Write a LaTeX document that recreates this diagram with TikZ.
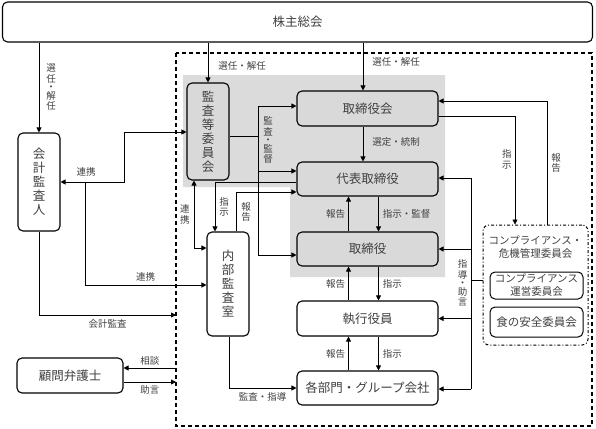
\documentclass[tikz,border=0pt]{standalone}
\usepackage{fontspec}
\setmainfont{Noto Sans CJK JP}
\usetikzlibrary{arrows.meta, positioning, calc}
\tikzset{
    boxnode/.style = {draw, rectangle, rounded corners=0.5em, line width=1.1pt, fill=white, text=black!75,
      inner sep=0pt, node distance=0em, align=center, font=\fontsize{12.5}{14}\selectfont},
    grayboxnode/.style = {boxnode, fill=black!15},
    smallboxnode/.style = {boxnode, line width=1pt, font=\fontsize{10.5}{13}\selectfont},
    groupnode/.style = {draw, rectangle, rounded corners=0.6em, line width=1pt, dash dot, fill=none, inner sep=0pt},
    labelnode/.style = {draw=none, fill=none, rectangle, inner sep=0pt, text=black!75, align=center,
      node distance=0em, font=\fontsize{9.5}{10.5}\selectfont},
    line/.style = {black, line width=0.8pt},
    connect/.style = {line, -{Triangle[length=5pt,width=5pt]}},
    twoway/.style = {line, {Triangle[length=5pt,width=5pt]}-{Triangle[length=5pt,width=5pt]}}
}

\begin{document}
\begin{tikzpicture}[x=1pt, y=-1pt]
    \useasboundingbox (0,0) rectangle (596,428);

    % gray area and dashed frame
    \fill [black!14] (183,75) -- (445,75) -- (445,277) -- (290,277) -- (290,187) -- (183,187) -- cycle;
    \draw [dashed, line width=1.1pt, dash pattern=on 4pt off 3pt] (176,53) rectangle (592,426);

    \node [boxnode, name=kabu, minimum width=590pt, minimum height=40pt] at (297.5,22) {株主総会};

    % main column
    \node [grayboxnode, name=torikai, minimum width=141pt, minimum height=35pt] at (367.5,108.5) {取締役会};
    \node [grayboxnode, name=daihyo, below of = torikai, yshift=-70.5pt, minimum width=141pt, minimum height=34pt] {代表取締役};
    \node [grayboxnode, name=torishimari, below of = daihyo, yshift=-70pt, minimum width=141pt, minimum height=34pt] {取締役};
    \node [boxnode, name=shikko, below of = torishimari, yshift=-69.5pt, minimum width=141pt, minimum height=35pt] {執行役員};
    \node [boxnode, name=kakubu, below of = shikko, yshift=-69.5pt, minimum width=141pt, minimum height=34pt] {各部門・グループ会社};

    \node [grayboxnode, name=kansa, minimum width=42pt, minimum height=97pt] at (208,131.5) {監\\査\\等\\委\\員\\会};
    \node [boxnode, name=naibu, minimum width=42pt, minimum height=104pt] at (228,284) {内\\部\\監\\査\\室};
    \node [boxnode, name=kaikei, minimum width=42pt, minimum height=98pt] at (39,182) {会\\計\\監\\査\\人};
    \node [boxnode, name=komon, minimum width=106pt, minimum height=35pt] at (70,375.5) {顧問弁護士};

    % compliance group
    \node [groupnode, name=comp, minimum width=105pt, minimum height=120pt] at (535.5,285) {};
    \node [labelnode, name=comptitle, font=\fontsize{10.5}{13}\selectfont] at (535.5,247) {コンプライアンス・\\危機管理委員会};
    \node [smallboxnode, name=unei, minimum width=93pt, minimum height=27pt] at (536.5,285.5) {コンプライアンス\\運営委員会};
    \node [smallboxnode, name=shoku, minimum width=93pt, minimum height=30pt, font=\fontsize{11.5}{13}\selectfont] at (536.5,322) {食の安全委員会};

    \coordinate (shidoTop) at (471,178);
    \coordinate (shidoBot) at (471,389);
    \coordinate (kansaTop) at (258,106);
    \coordinate (kansaMid) at (258,171);
    \coordinate (kansaBot) at (258,255);
    \coordinate (renkeiBranch) at (85,182);
    \coordinate (kaikansaEnd) at (176,315);
    \coordinate (sodanEnd) at (176,368);
    \coordinate (jogenEnd) at (176,382);

    % from the shareholders
    \draw [connect] (kaikei.north |- kabu.south) -- node[labelnode, right=7pt] {選\\任\\[-2pt]・\\[-2pt]解\\任} (kaikei.north);
    \draw [connect] (kansa.north |- kabu.south) -- node[labelnode, right=10pt, pos=0.58] {選任・解任} (kansa.north);
    \draw [connect] ([xshift=-4.5pt]torikai.north |- kabu.south) -- node[labelnode, right=9pt, pos=0.41] {選任・解任} ([xshift=-4.5pt]torikai.north);

    % main column
    \draw [connect] ([xshift=-4.5pt]torikai.south) -- node[labelnode, right=9pt, pos=0.45] {選定・統制} ([xshift=-4.5pt]daihyo.north);
    \draw [connect] ([xshift=-19pt]torishimari.north) -- node[labelnode, left=3pt] {報告} ([xshift=-19pt]daihyo.south);
    \draw [connect] ([xshift=11pt]daihyo.south) -- node[labelnode, right=4pt] {指示・監督} ([xshift=11pt]torishimari.north);
    \draw [connect] ([xshift=-19pt]shikko.north) -- node[labelnode, left=3pt] {報告} ([xshift=-19pt]torishimari.south);
    \draw [connect] ([xshift=11pt]torishimari.south) -- node[labelnode, right=4pt] {指示} ([xshift=11pt]shikko.north);
    \draw [connect] ([xshift=-19pt]kakubu.north) -- node[labelnode, left=3pt] {報告} ([xshift=-19pt]shikko.south);
    \draw [connect] ([xshift=11pt]shikko.south) -- node[labelnode, right=4pt] {指示} ([xshift=11pt]kakubu.north);

    % compliance links
    \draw [connect] ([yshift=-7.5pt]torikai.east) -| node[labelnode, pos=0.7, left=3pt] {指\\示} ([xshift=-20.5pt]comp.north);
    \draw [connect] ([xshift=11.5pt]comp.north) |- node[labelnode, pos=0.25, right=4pt] {報\\告} ([yshift=7.5pt]torikai.east);
    \draw [line] ([yshift=5pt]comp.west) -- +(-12,0);
    \draw [line] (shidoTop) -- (shidoBot);
    \draw [connect] (shidoTop) -- (daihyo.east |- shidoTop);
    \draw [connect] (shidoTop |- torishimari.east) -- (torishimari.east);
    \draw [connect] (shidoTop |- shikko.east) -- (shikko.east);
    \draw [connect] (shidoBot) -- (kakubu.east |- shidoBot);
    \node [labelnode, name=shidolabel, left=3.5pt] at (471,283) {指\\導\\[-2pt]・\\[-2pt]助\\言};

    % audit committee
    \draw [line] ([yshift=-4.5pt]kansa.east) -- +(29,0);
    \draw [line] (kansaTop) -- (kansaBot);
    \draw [connect] (kansaTop) -- (torikai.west |- kansaTop);
    \draw [connect] (kansaMid) -- (daihyo.west |- kansaMid);
    \draw [connect] (kansaBot) -- (torishimari.west |- kansaBot);
    \node [labelnode, name=kansalabel] at (268,140) {監\\査\\[-2pt]・\\[-2pt]監\\督};

    % internal audit
    \draw [connect] ([yshift=-3pt]daihyo.west) -| node[labelnode, pos=0.75, right=4pt] {指\\示} ([xshift=-13pt]naibu.north);
    \draw [connect] ([xshift=8pt]naibu.north) |- node[labelnode, pos=0.25, right=5pt] {報\\告} ([yshift=-13pt]daihyo.west);
    \draw [twoway] ([xshift=-14pt]kansa.south) |- node[labelnode, pos=0.25, left=4pt] {連\\携} ([yshift=36pt]naibu.west);
    \draw [connect] ([xshift=1pt]naibu.south) |- node[labelnode, pos=0.75, below=4pt] {監査・指導} (kakubu.west);

    % outside the company
    \draw [twoway] (kaikei.east) -- ++(64,0) |- ([yshift=-0.5pt]kansa.west);
    \node [labelnode, name=renkeilabel] at (86,172) {連携};
    \draw [connect] (renkeiBranch) |- node[labelnode, pos=0.75, above=3pt] {連携} ([yshift=-1pt]naibu.west);
    \draw [connect] (kaikei.south) |- node[labelnode, pos=0.75, below=4pt] {会計監査} (kaikansaEnd);
    \draw [connect] (sodanEnd) -- node[labelnode, above=2pt] {相談} (komon.east |- sodanEnd);
    \draw [connect] (komon.east |- jogenEnd) -- node[labelnode, below=3pt] {助言} (jogenEnd);
\end{tikzpicture}
\end{document}
